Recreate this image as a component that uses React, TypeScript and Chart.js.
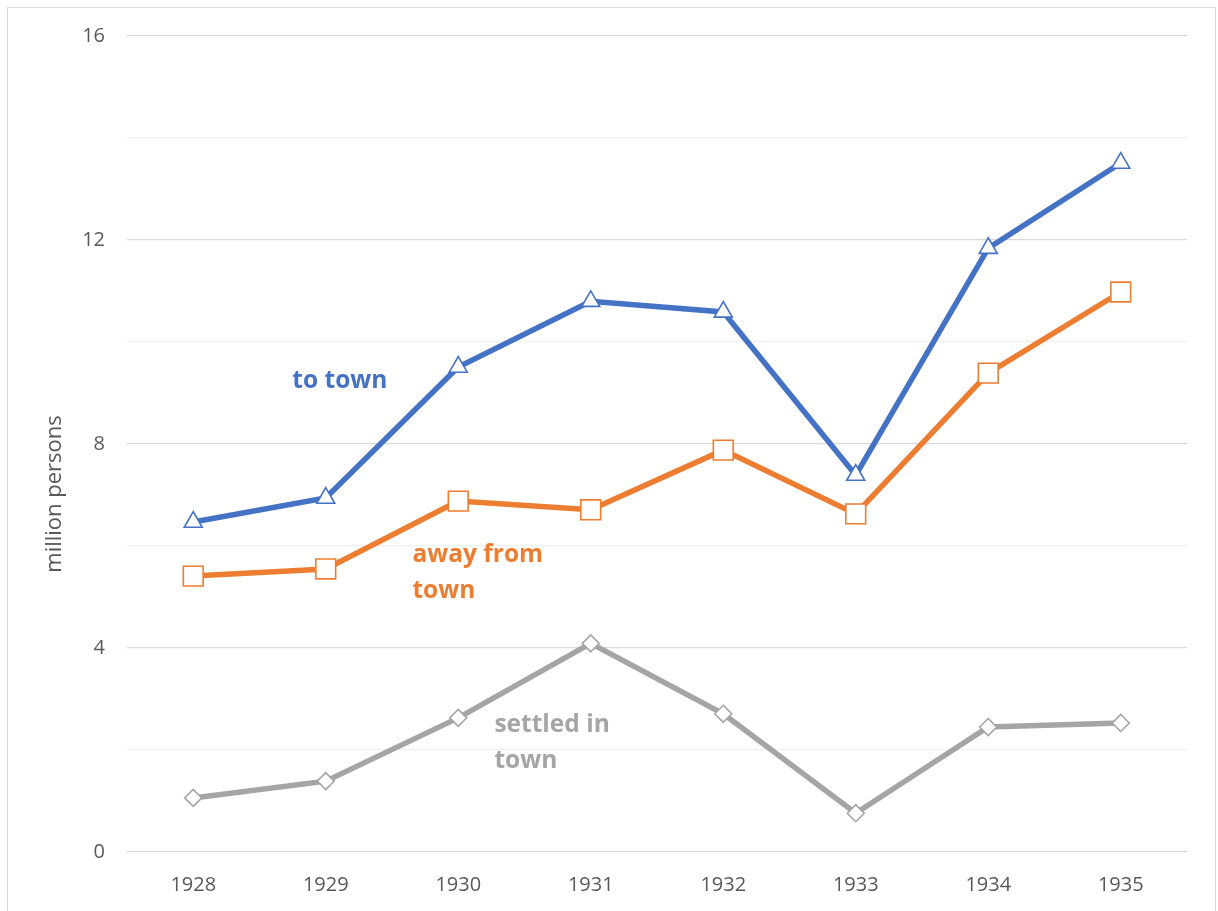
import React, { useEffect, useRef } from "react";
import { Chart, registerables } from "chart.js";

Chart.register(...registerables);

// Migration flows, million persons per year
const years = ["1928", "1929", "1930", "1931", "1932", "1933", "1934", "1935"];
const toTown = [6.47, 6.94, 9.51, 10.8, 10.59, 7.39, 11.84, 13.51];
const awayFromTown = [5.41, 5.55, 6.88, 6.71, 7.88, 6.63, 9.39, 10.98];
const settledInTown = [1.06, 1.39, 2.63, 4.09, 2.71, 0.76, 2.45, 2.53];

const yAxisTitle = "million persons";

const BLUE = "#4472C4";
const ORANGE = "#ED7D31";
const GREY = "#A5A5A5";
const TEXT = "#595959";
const FONT = "'Open Sans', 'Noto Sans', sans-serif";

// In-plot series captions, placed in data space (category index, value)
const captions = [
  { lines: ["to town"], x: 0.748, y: 9.24, color: BLUE },
  { lines: ["away from", "town"], x: 1.654, y: 5.82, color: ORANGE },
  { lines: ["settled in", "town"], x: 2.273, y: 2.49, color: GREY },
];

const captionPlugin = {
  id: "seriesCaptions",
  afterDatasetsDraw(chart: any) {
    const { ctx, scales } = chart;
    const xs = scales.x;
    const ys = scales.y;
    const lineGap = ys.getPixelForValue(0) - ys.getPixelForValue(0.706);
    ctx.save();
    ctx.font = `bold 24.5px ${FONT}`;
    ctx.textAlign = "left";
    ctx.textBaseline = "middle";
    captions.forEach((c) => {
      const px = xs.getPixelForValue(c.x);
      const py = ys.getPixelForValue(c.y);
      ctx.fillStyle = c.color;
      c.lines.forEach((t, i) => ctx.fillText(t, px, py + i * lineGap));
    });
    ctx.restore();
  },
};

// Vertical axis title, sitting a little below the middle of the value axis
const axisTitlePlugin = {
  id: "yAxisTitle",
  afterDraw(chart: any) {
    const { ctx, scales } = chart;
    const ys = scales.y;
    const cy = ys.getPixelForValue(7.02);
    ctx.save();
    ctx.translate(47, cy);
    ctx.rotate(-Math.PI / 2);
    ctx.font = `22px ${FONT}`;
    ctx.fillStyle = TEXT;
    ctx.textAlign = "center";
    ctx.textBaseline = "middle";
    ctx.fillText(yAxisTitle, 0, 0);
    ctx.restore();
  },
};

function series(label: string, data: number[], color: string, style: string, radius: number) {
  return {
    label,
    data,
    borderColor: color,
    backgroundColor: color,
    borderWidth: 5.5,
    pointStyle: style,
    pointRadius: radius,
    pointHoverRadius: radius,
    pointBackgroundColor: "#ffffff",
    pointBorderColor: color,
    pointBorderWidth: 1.6,
    tension: 0,
  };
}

export default function App() {
  const canvasRef = useRef<HTMLCanvasElement | null>(null);

  useEffect(() => {
    const canvas = canvasRef.current;
    if (!canvas) return;
    const chart = new Chart(canvas, {
      type: "line",
      data: {
        labels: years,
        datasets: [
          series("to town", toTown, BLUE, "triangle", 10.4),
          series("away from town", awayFromTown, ORANGE, "rect", 14),
          series("settled in town", settledInTown, GREY, "rectRot", 8.5),
        ],
      },
      options: {
        responsive: false,
        animation: false,
        devicePixelRatio: 1,
        layout: { autoPadding: false, padding: { left: 0, right: 28, top: 28, bottom: 0 } },
        plugins: {
          legend: { display: false },
          tooltip: { enabled: false },
          title: { display: false },
        },
        scales: {
          x: {
            offset: true,
            grid: { display: false, drawTicks: false },
            border: { display: false },
            ticks: {
              color: TEXT,
              font: { family: FONT, size: 20 },
              padding: 21,
              maxRotation: 0,
            },
            afterFit(scale: any) {
              scale.height = 59;
              scale.paddingLeft = 0;
              scale.paddingRight = 0;
            },
          },
          y: {
            min: 0,
            max: 16,
            grid: {
              drawTicks: false,
              lineWidth: 1.3,
              color: (ctx: any) =>
                ctx.tick && ctx.tick.value % 4 === 0 ? "#d9d9d9" : "#f0f0f0",
            },
            border: { display: false },
            ticks: {
              stepSize: 2,
              color: TEXT,
              font: { family: FONT, size: 20 },
              padding: 22,
              callback: (v: any) => (Number(v) % 4 === 0 ? String(v) : ""),
            },
            afterFit(scale: any) {
              scale.width = 119;
              scale.paddingTop = 0;
              scale.paddingBottom = 0;
            },
          },
        },
      } as any,
      plugins: [captionPlugin, axisTitlePlugin],
    });
    return () => chart.destroy();
  }, []);

  return (
    <>
      <style>{`html, body { margin: 0; overflow: hidden; background: #ffffff; }`}</style>
      <div
        style={{
          position: "absolute",
          left: 7,
          top: 7,
          width: 1207,
          height: 930,
          border: "1px solid #d9d9d9",
          background: "#ffffff",
        }}
      >
        <canvas
          ref={canvasRef}
          width={1207}
          height={903}
          style={{ display: "block", width: 1207, height: 903 }}
        />
      </div>
    </>
  );
}
